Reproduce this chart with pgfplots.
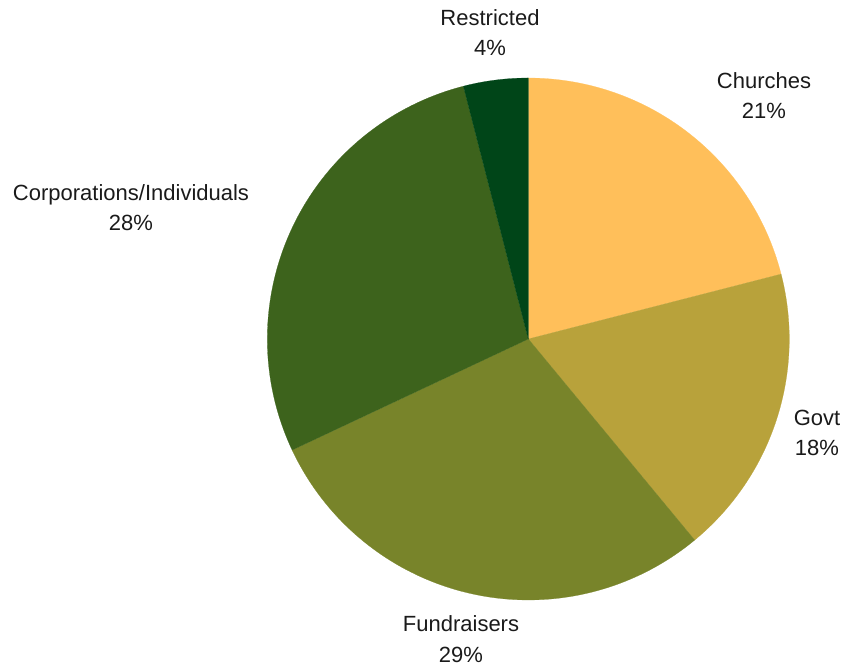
\documentclass[border=0pt]{standalone}
\usepackage{pgfplots}
\pgfplotsset{compat=1.18}
\usepackage{fontspec}
\setmainfont{Liberation Sans}
\definecolor{cChurch}{RGB}{255,191,90}
\definecolor{cGovt}{RGB}{184,162,59}
\definecolor{cFund}{RGB}{120,132,42}
\definecolor{cCorp}{RGB}{61,99,28}
\definecolor{cRestr}{RGB}{0,69,24}
\definecolor{txt}{RGB}{26,26,26}
% shares (%): Churches 21, Govt 18, Fundraisers 29, Corporations/Individuals 28, Restricted 4
% start at 90 deg, clockwise: boundaries 90, 14.4, -50.4, -154.8, -255.6, -270
\begin{document}
\begin{tikzpicture}[lbl/.style={font=\fontsize{22bp}{30bp}\selectfont, text=txt, anchor=base, inner sep=0pt}]
\begin{axis}[
  scale only axis, width=852bp, height=671bp,
  xmin=0, xmax=852, ymin=0, ymax=671,
  hide axis, clip=false,
]
\path (rel axis cs:0,0) rectangle (rel axis cs:1,1);
\addplot[fill=cChurch, draw=cChurch, line width=0.2pt, domain=14.4:90, samples=80] ({528.3+261*cos(x)},{332+261*sin(x)}) -- (axis cs:528.3,332) -- cycle;
\addplot[fill=cGovt, draw=cGovt, line width=0.2pt, domain=-50.4:14.4, samples=80] ({528.3+261*cos(x)},{332+261*sin(x)}) -- (axis cs:528.3,332) -- cycle;
\addplot[fill=cFund, draw=cFund, line width=0.2pt, domain=-154.8:-50.4, samples=100] ({528.3+261*cos(x)},{332+261*sin(x)}) -- (axis cs:528.3,332) -- cycle;
\addplot[fill=cCorp, draw=cCorp, line width=0.2pt, domain=-255.6:-154.8, samples=100] ({528.3+261*cos(x)},{332+261*sin(x)}) -- (axis cs:528.3,332) -- cycle;
\addplot[fill=cRestr, draw=cRestr, line width=0.2pt, domain=-270:-255.6, samples=30] ({528.3+261*cos(x)},{332+261*sin(x)}) -- (axis cs:528.3,332) -- cycle;

\node[lbl] at (axis cs:490,645) {Restricted};
\node[lbl] at (axis cs:490,615) {4\%};
\node[lbl] at (axis cs:764,582) {Churches};
\node[lbl] at (axis cs:764,552) {21\%};
\node[lbl] at (axis cs:131,470) {Corporations/Individuals};
\node[lbl] at (axis cs:131,440) {28\%};
\node[lbl] at (axis cs:817,245) {Govt};
\node[lbl] at (axis cs:817,215) {18\%};
\node[lbl] at (axis cs:461,39) {Fundraisers};
\node[lbl] at (axis cs:461,9) {29\%};
\end{axis}
\end{tikzpicture}
\end{document}
